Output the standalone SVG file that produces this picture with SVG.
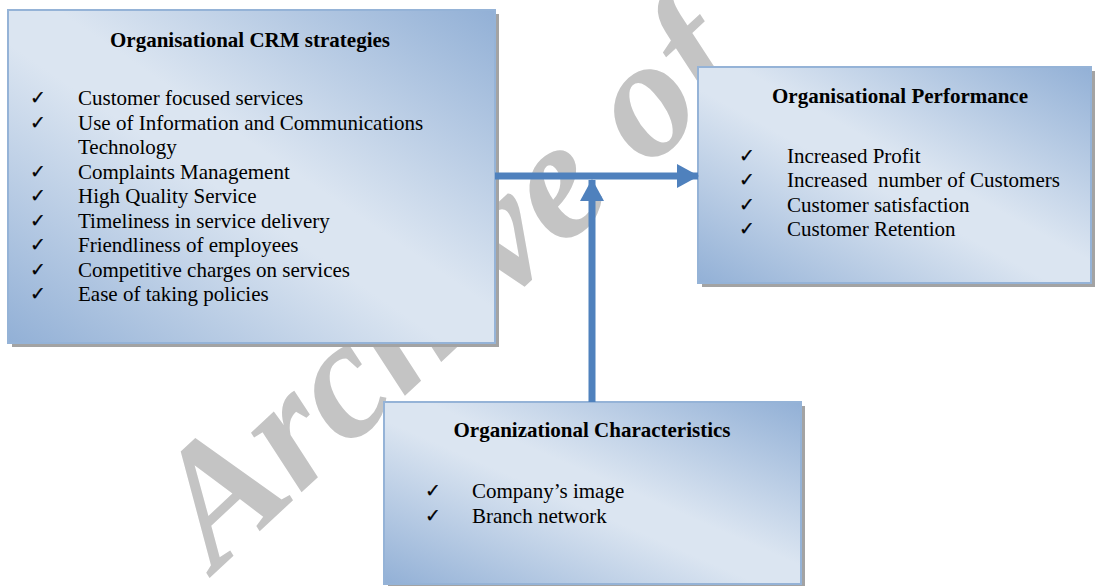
<svg xmlns="http://www.w3.org/2000/svg" width="1096" height="586" viewBox="0 0 1096 586">
<defs>
<linearGradient id="boxfill" x1="1" y1="0" x2="0" y2="1">
<stop offset="0" stop-color="#92B0D6"/>
<stop offset="0.45" stop-color="#DBE5F1"/>
<stop offset="0.55" stop-color="#DBE5F1"/>
<stop offset="1" stop-color="#92B0D6"/>
</linearGradient>
<marker id="ah" markerWidth="22" markerHeight="24" refX="21" refY="12" orient="auto" markerUnits="userSpaceOnUse">
<path d="M0,0 L22,12 L0,24 Z" fill="#4F81BD"/>
</marker>
</defs>
<style>
.box{fill:url(#boxfill);stroke:#95B3D7;stroke-width:2}
.shadow{fill:#A3A3A3}
.title{font-family:"Liberation Serif","Times New Roman",serif;font-size:21px;font-weight:bold;fill:#000;text-anchor:middle}
.item{font-family:"Liberation Serif","Times New Roman",serif;font-size:21px;fill:#000}
.chk{font-family:"DejaVu Sans",sans-serif;font-size:19px;fill:#000;stroke:#000;stroke-width:0.25}
.conn{stroke:#4F81BD;stroke-width:7;fill:none}
.wm{font-family:"Liberation Serif","Times New Roman",serif;font-size:170px;font-weight:bold;font-style:italic;fill:#C4C4C4}
</style>
<rect width="1096" height="586" fill="#fff"/>
<g id="watermark">
<text class="wm" transform="translate(216,572) rotate(-43)">Archive of</text>
</g>
<g id="crm">
<rect class="shadow" x="12" y="14" width="487" height="333"/>
<rect class="box" x="8" y="10" width="487" height="333"/>
<text class="title" x="250" y="47">Organisational CRM strategies</text>
<g class="chk">
<text x="30" y="104">✓</text><text x="30" y="128.5">✓</text><text x="30" y="177.5">✓</text><text x="30" y="202">✓</text><text x="30" y="226.5">✓</text><text x="30" y="251">✓</text><text x="30" y="275.5">✓</text><text x="30" y="300">✓</text>
</g>
<g class="item">
<text x="78" y="105">Customer focused services</text>
<text x="78" y="129.5">Use of Information and Communications</text>
<text x="78" y="154">Technology</text>
<text x="78" y="178.5">Complaints Management</text>
<text x="78" y="203">High Quality Service</text>
<text x="78" y="227.5">Timeliness in service delivery</text>
<text x="78" y="252">Friendliness of employees</text>
<text x="78" y="276.5">Competitive charges on services</text>
<text x="78" y="301">Ease of taking policies</text>
</g>
</g>
<g id="performance">
<rect class="shadow" x="702" y="71" width="393" height="216"/>
<rect class="box" x="698" y="67" width="393" height="216"/>
<text class="title" x="900" y="103">Organisational Performance</text>
<g class="chk">
<text x="739" y="161.5">✓</text><text x="739" y="186">✓</text><text x="739" y="210.5">✓</text><text x="739" y="235">✓</text>
</g>
<g class="item">
<text x="787" y="162.5">Increased Profit</text>
<text x="787" y="187" xml:space="preserve">Increased  number of Customers</text>
<text x="787" y="211.5">Customer satisfaction</text>
<text x="787" y="236">Customer Retention</text>
</g>
</g>
<g id="characteristics">
<rect class="shadow" x="388" y="406" width="417" height="182"/>
<rect class="box" x="384" y="402" width="417" height="182"/>
<text class="title" x="592" y="437">Organizational Characteristics</text>
<g class="chk">
<text x="425" y="497">✓</text><text x="425" y="521.5">✓</text>
</g>
<g class="item">
<text x="472" y="498">Company’s image</text>
<text x="472" y="522.5">Branch network</text>
</g>
</g>
<g id="connectors">
<line class="conn" x1="495" y1="176" x2="698" y2="176" marker-end="url(#ah)"/>
<line class="conn" x1="592" y1="402" x2="592" y2="180" marker-end="url(#ah)"/>
</g>
</svg>
